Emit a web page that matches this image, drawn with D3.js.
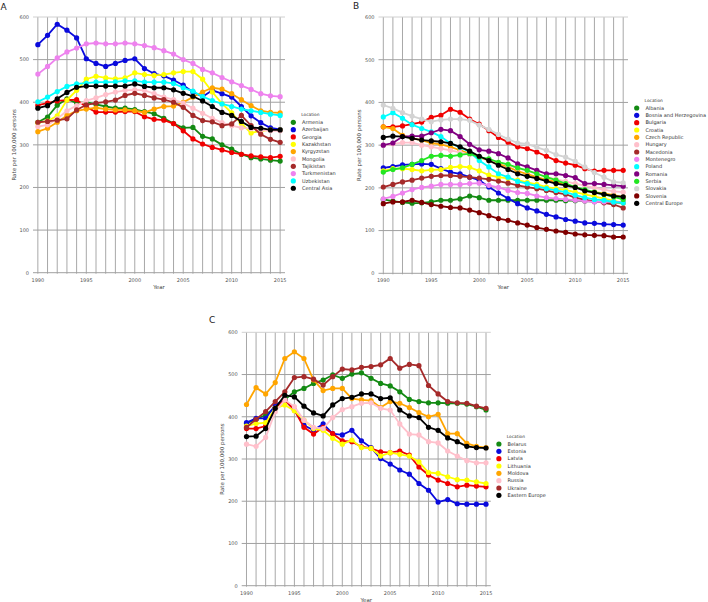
<!DOCTYPE html>
<html>
<head>
<meta charset="utf-8">
<script src="https://cdn.jsdelivr.net/npm/d3@7"></script>
<style>
  body { margin: 0; background: #fff; }
  text { font-family: "DejaVu Sans", sans-serif; }
</style>
</head>
<body>
<div id="chart"></div>
<script>
// years and tick labels
var years = d3.range(1990, 2016);
var xTicks = [1990, 1995, 2000, 2005, 2010, 2015];
var yTicks = [0, 100, 200, 300, 400, 500, 600];

// Panel A - Central Asia
var locA = ["Armenia", "Azerbaijan", "Georgia", "Kazakhstan", "Kyrgyzstan", "Mongolia",
            "Tajikistan", "Turkmenistan", "Uzbekistan", "Central Asia"];
var armenia      = [353,365,393,408,398,400,395,390,386,386,383,378,373,362,350,340,341,320,314,300,290,278,270,267,264,262];
var azerbaijan   = [535,557,583,569,551,502,491,484,491,498,502,479,467,462,452,440,424,413,428,420,412,390,368,352,340,336];
var georgia      = [393,398,403,405,406,389,377,377,377,378,378,366,360,358,350,333,314,302,294,288,282,278,274,272,270,273];
var kazakhstan   = [352,356,368,405,428,454,461,457,455,457,469,465,463,465,469,472,472,454,424,397,375,350,328,333,335,335];
var kyrgyzstan   = [331,339,353,369,380,384,387,384,382,382,380,376,384,390,391,400,412,424,434,431,420,406,392,380,376,375];
var mongolia     = [343,347,361,380,392,404,410,418,424,428,429,428,420,412,406,398,386,374,362,352,345,340,338,335,333,333];
var tajikistan   = [353,355,358,361,382,394,398,401,405,416,421,416,410,406,400,388,369,357,354,345,349,369,345,325,313,306];
var turkmenistan = [466,484,504,518,527,537,539,537,537,539,537,533,528,521,513,500,491,477,469,458,448,439,430,420,415,413];
var uzbekistan   = [401,412,425,437,443,445,447,447,448,450,450,447,447,447,444,434,426,413,404,396,390,384,380,376,372,369];
var centralAsia  = [386,392,408,423,435,438,438,438,438,438,443,437,434,434,429,421,414,403,390,376,369,355,341,339,335,335];
var valuesA = [armenia, azerbaijan, georgia, kazakhstan, kyrgyzstan, mongolia, tajikistan, turkmenistan, uzbekistan, centralAsia];

// Panel B - Central Europe
var locB = ["Albania", "Bosnia and Herzegovina", "Bulgaria", "Croatia", "Czech Republic", "Hungary",
            "Macedonia", "Montenegro", "Poland", "Romania", "Serbia", "Slovakia", "Slovenia", "Central Europe"];
var albania       = [173,169,166,164,165,167,171,171,174,181,177,171,171,171,171,171,171,171,171,170,170,169,168,167,166,165];
var bosnia        = [247,250,254,255,256,255,245,237,233,225,218,202,188,175,163,153,146,138,132,126,122,118,117,115,114,113];
var bulgaria      = [343,343,345,349,354,365,370,384,377,361,349,334,318,307,296,292,284,274,264,258,253,245,239,241,241,241];
var croatia       = [240,245,245,243,240,242,243,248,250,248,240,230,225,222,218,213,208,202,198,195,190,185,180,175,170,165];
var czech         = [343,339,323,316,312,305,302,296,288,280,272,264,256,249,239,232,225,219,214,208,202,194,190,187,183,179];
var hungary       = [300,303,306,306,300,296,292,288,283,278,272,266,260,253,246,240,233,226,220,215,210,205,200,196,192,190];
var macedonia     = [202,208,214,218,223,227,229,229,227,225,223,220,216,211,206,202,198,194,189,185,177,172,169,165,161,153];
var montenegro    = [174,180,188,196,201,204,208,208,208,210,211,206,201,194,189,187,181,177,175,173,171,169,167,167,167,167];
var poland        = [366,376,363,348,339,331,320,304,295,284,264,249,233,225,215,210,204,198,194,190,183,177,173,171,167,165];
var romania       = [300,305,320,321,321,329,337,334,320,302,289,286,280,270,256,249,241,233,233,229,224,210,210,208,206,204];
var serbia        = [237,243,247,255,264,274,276,274,277,280,272,268,260,255,247,241,233,225,218,210,202,196,190,185,179,173];
var slovakia      = [394,386,376,368,361,355,359,361,361,358,347,337,325,314,305,303,295,288,278,272,262,249,236,225,214,212];
var slovenia      = [163,167,167,171,166,161,157,154,153,148,142,135,128,124,118,113,107,103,99,96,92,90,89,88,85,85];
var centralEurope = [318,321,320,316,312,310,308,304,296,286,274,264,253,243,233,227,222,216,210,206,201,193,189,185,181,179];
var valuesB = [albania, bosnia, bulgaria, croatia, czech, hungary, macedonia, montenegro, poland, romania, serbia, slovakia, slovenia, centralEurope];

// Panel C - Eastern Europe
var locC = ["Belarus", "Estonia", "Latvia", "Lithuania", "Moldova", "Russia", "Ukraine", "Eastern Europe"];
var belarus       = [384,394,404,422,441,459,467,479,487,499,491,501,504,491,479,473,459,441,436,433,433,432,432,430,424,416];
var estonia       = [386,396,396,428,440,416,380,368,383,360,357,368,343,327,301,288,274,264,242,226,198,204,194,193,193,193];
var latvia        = [372,372,378,420,440,416,375,359,375,360,343,341,329,325,317,315,319,309,281,262,250,242,234,238,236,234];
var lithuania     = [378,384,386,420,428,414,392,372,368,349,335,345,327,325,307,315,311,307,293,268,266,258,251,250,246,242];
var moldova       = [429,469,454,481,538,554,538,487,462,467,467,443,440,438,422,436,432,422,410,400,406,360,360,337,330,327];
var russia        = [335,330,351,412,440,424,392,375,372,398,417,424,432,433,420,416,383,359,357,341,338,319,307,296,291,291];
var ukraine       = [375,394,412,436,459,493,495,489,475,495,513,511,517,519,523,538,515,524,521,474,454,436,433,432,425,420];
var easternEurope = [353,354,372,420,451,447,425,409,402,428,443,446,454,454,443,445,416,402,398,375,368,350,341,330,327,326];
var valuesC = [belarus, estonia, latvia, lithuania, moldova, russia, ukraine, easternEurope];

// colours
var colA = ["#138a13", "#0a0adc", "#f00000", "#ffff00", "#ffa500", "#ffc0cb", "#a52a2a", "#ee82ee", "#00ffff", "#000000"];
var colB = ["#138a13", "#0a0adc", "#f00000", "#ffff00", "#ffa500", "#ffc0cb", "#a52a2a", "#ee82ee", "#00ffff",
            "#800080", "#22e622", "#d3d3d3", "#800000", "#000000"];
var colC = ["#138a13", "#0a0adc", "#f00000", "#ffff00", "#ffa500", "#ffc0cb", "#a52a2a", "#000000"];

var svg = d3.select("#chart").append("svg")
    .attr("width", 708)
    .attr("height", 602);

function drawPanel(p) {
  var x = d3.scaleLinear().domain([1989.5, 2015.5]).range([p.left, p.right]);
  var y = d3.scaleLinear().domain([0, 600]).range([p.bottom, p.top]);
  var g = svg.append("g");

  // grid
  g.selectAll(".vg").data(years).enter().append("line")
    .attr("x1", d => x(d)).attr("x2", d => x(d))
    .attr("y1", p.top).attr("y2", p.bottom + 1)
    .attr("stroke", "#a8a8a8").attr("stroke-width", 1);
  g.selectAll(".hg").data(yTicks).enter().append("line")
    .attr("x1", p.left).attr("x2", p.right)
    .attr("y1", d => y(d)).attr("y2", d => y(d))
    .attr("stroke", d => d == 600 ? "#d0d0d0" : "#a0a0a0").attr("stroke-width", 1);

  // tick labels
  g.selectAll(".yt").data(yTicks).enter().append("text")
    .attr("x", p.left - 4).attr("y", d => y(d) + 1.8)
    .attr("text-anchor", "end").attr("font-size", 5).attr("fill", "#555")
    .text(d => d);
  g.selectAll(".xt").data(xTicks).enter().append("text")
    .attr("x", d => x(d)).attr("y", p.bottom + 9)
    .attr("text-anchor", "middle").attr("font-size", 5).attr("fill", "#555")
    .text(d => d);

  // axis titles
  g.append("text")
    .attr("transform", "translate(" + p.yTitleX + "," + ((p.top + p.bottom) / 2) + ") rotate(-90)")
    .attr("text-anchor", "middle").attr("font-size", 5.5).attr("fill", "#444")
    .text("Rate per 100,000 persons");
  g.append("text")
    .attr("x", (p.left + p.right) / 2).attr("y", p.bottom + 16)
    .attr("text-anchor", "middle").attr("font-size", 5.5).attr("fill", "#444")
    .text("Year");

  // panel letter
  g.append("text")
    .attr("x", p.labelX).attr("y", p.labelY)
    .attr("font-size", 9).attr("fill", "#222")
    .text(p.label);

  // series
  var line = d3.line().x((d, i) => x(years[i])).y(d => y(d));
  p.values.forEach(function(vals, k) {
    var s = g.append("g");
    s.append("path")
      .attr("d", line(vals))
      .attr("fill", "none")
      .attr("stroke", p.colors[k])
      .attr("stroke-width", 1.8);
    s.selectAll("circle").data(vals).enter().append("circle")
      .attr("cx", (d, i) => x(years[i]))
      .attr("cy", d => y(d))
      .attr("r", 2.6)
      .attr("fill", p.colors[k]);
  });

  // legend
  var lg = g.append("g");
  lg.append("text")
    .attr("x", p.legX + 17).attr("y", p.legY - 6)
    .attr("text-anchor", "middle").attr("font-size", 4.3).attr("fill", "#333")
    .text("Location");
  p.names.forEach(function(n, k) {
    lg.append("circle")
      .attr("cx", p.legX).attr("cy", p.legY + k * 7.33)
      .attr("r", 2.6).attr("fill", p.colors[k]);
    lg.append("text")
      .attr("x", p.legX + 8.7).attr("y", p.legY + k * 7.33 + 1.8)
      .attr("font-size", 5).attr("fill", "#333")
      .text(n);
  });
}

drawPanel({label: "A", labelX: 0.5, labelY: 10, left: 33, right: 285, top: 17, bottom: 272.7,
           yTitleX: 15.5, values: valuesA, colors: colA, names: locA, legX: 293.3, legY: 122.3});
drawPanel({label: "B", labelX: 353, labelY: 9, left: 378.5, right: 628, top: 17, bottom: 273.3,
           yTitleX: 361, values: valuesB, colors: colB, names: locB, legX: 636.7, legY: 108});
drawPanel({label: "C", labelX: 209, labelY: 323, left: 241.7, right: 490.8, top: 332.3, bottom: 585.7,
           yTitleX: 224, values: valuesC, colors: colC, names: locC, legX: 498.9, legY: 444});
</script>
</body>
</html>
